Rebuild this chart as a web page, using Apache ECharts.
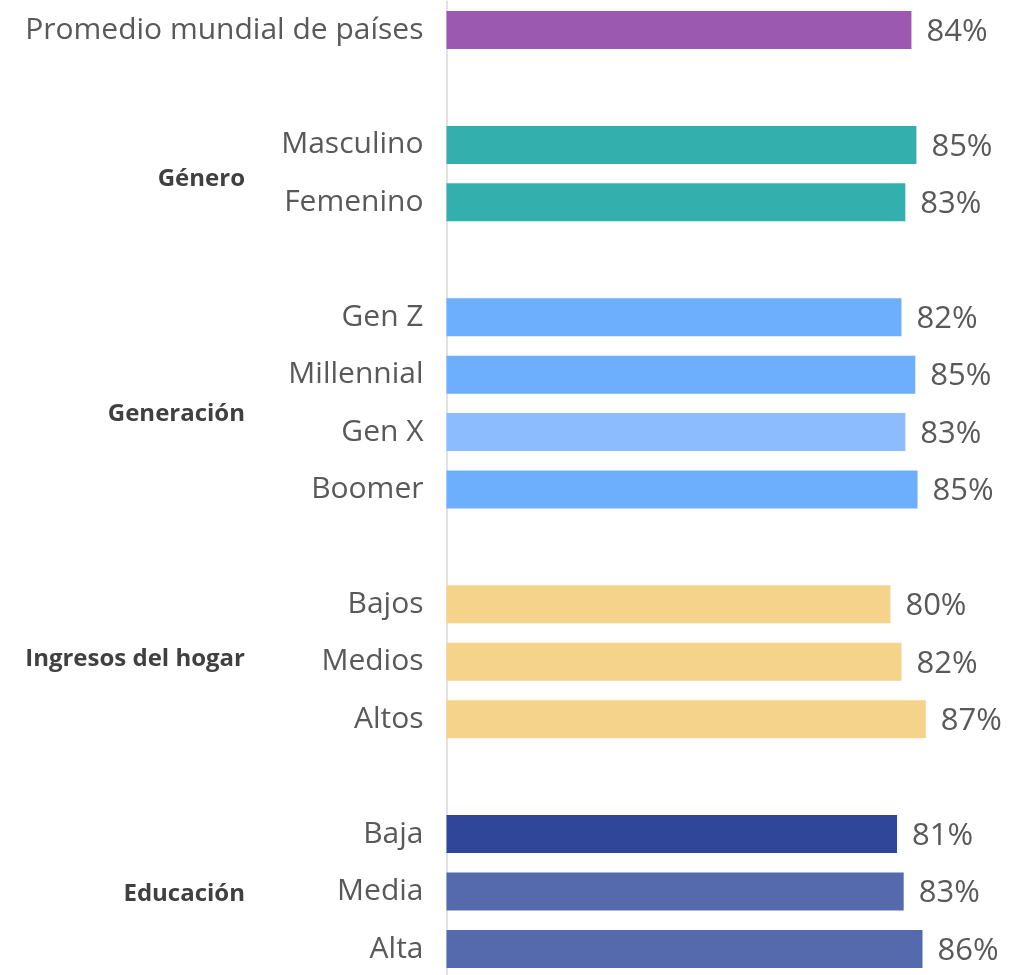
<!DOCTYPE html>
<html>
<head>
<meta charset="utf-8">
<script src="https://cdn.jsdelivr.net/npm/echarts@6/dist/echarts.min.js"></script>
<style>
html,body{margin:0;padding:0;background:#fff;}
#bar{width:1020px;height:975px;}
</style>
</head>
<body>
<div id="bar"></div>
<script>
// 分类（空白项是组之间的空行）
var categories = ['Promedio mundial de países', ' ', 'Masculino', 'Femenino', '  ',
    'Gen Z', 'Millennial', 'Gen X', 'Boomer', '   ',
    'Bajos', 'Medios', 'Altos', '    ',
    'Baja', 'Media', 'Alta'];
// 百分比（从条形长度估计，标签四舍五入显示）
var values = [84.0, null, 84.9, 82.9, null, 82.2, 84.7, 82.9, 85.1, null, 80.2, 82.2, 86.6, null, 81.4, 82.6, 86.0];
var barColors = ['#9b59b0', null, '#33b0ae', '#33b0ae', null,
    '#6daefd', '#6daefd', '#8cbcfe', '#6daefd', null,
    '#f5d38a', '#f5d38a', '#f5d38a', null,
    '#2f4699', '#5569ad', '#5569ad'];
// 分组名称和所在行（首行、末行）
var groupNames = ['Género', 'Generación', 'Ingresos del hogar', 'Educación'];
var groupRows = [[2, 3], [5, 8], [10, 12], [14, 16]];
var groupShift = [5.5, 11, -3, 3];

(function(){
    var myChart = echarts.init(document.getElementById('bar'));
    var font = '"Open Sans", "Noto Sans", sans-serif';

    var data = values.map(function(v, i){
        if (v === null) return '-';
        return { value: v, itemStyle: { color: barColors[i] } };
    });

    var option = {
        animation: false,
        grid: {
            left: 446.5, top: 1.3, width: 553.5, height: 976.4,
            containLabel: false,
            outerBoundsMode: 'none'
        },
        xAxis: {
            type: 'value',
            min: 0,
            max: 100,
            show: false
        },
        yAxis: {
            type: 'category',
            inverse: true,
            data: categories,
            axisLine: { onZero: false, lineStyle: { color: '#d9d9d9', width: 1.5 } },
            axisTick: { show: false },
            axisLabel: {
                color: '#595959',
                fontSize: 30,
                fontFamily: font,
                margin: 23,
                padding: [3, 0, 0, 0]
            }
        },
        series: [{
            type: 'bar',
            barWidth: 38,
            data: data,
            label: {
                show: true,
                position: 'right',
                distance: 15,
                offset: [0, 2],
                color: '#595959',
                fontSize: 31,
                fontFamily: font,
                formatter: function(p){
                    return Math.round(p.value) + '%';
                }
            }
        }]
    };
    myChart.setOption(option);

    // 组标签
    var texts = groupNames.map(function(name, i){
        var y1 = myChart.convertToPixel({ yAxisIndex: 0 }, categories[groupRows[i][0]]);
        var y2 = myChart.convertToPixel({ yAxisIndex: 0 }, categories[groupRows[i][1]]);
        return {
            type: 'text',
            x: 245,
            y: (y1 + y2) / 2 + groupShift[i],
            style: {
                text: name,
                fill: '#404040',
                font: 'bold 24px ' + font,
                textAlign: 'right',
                textVerticalAlign: 'middle'
            }
        };
    });
    myChart.setOption({ graphic: texts });
})();
</script>
</body>
</html>
